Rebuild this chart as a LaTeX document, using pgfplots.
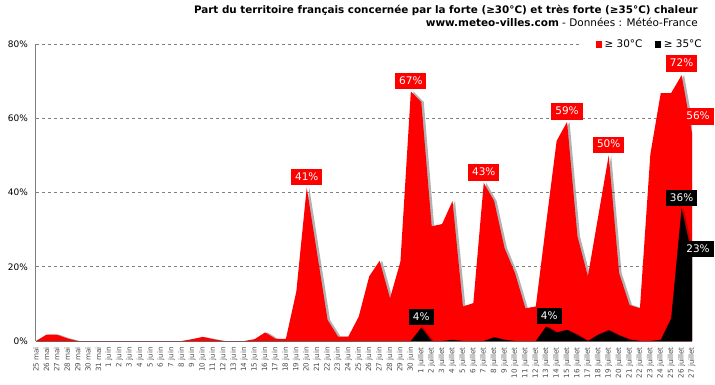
\documentclass[border=0pt]{standalone}
\usepackage{pgfplots}
\pgfplotsset{compat=1.18}
\usepackage{fontspec}
\setmainfont{DejaVu Sans}
\usetikzlibrary{shadows}
\definecolor{vred}{HTML}{FF0000}
\definecolor{gridgray}{HTML}{808080}
\tikzset{
  lblred/.style={fill=vred, text=white, font=\fontsize{10.5}{12}\selectfont, inner xsep=4bp, inner ysep=3.5bp, text height=7.7bp, text depth=1.8bp, anchor=south, yshift=2bp},
  lblblk/.style={lblred, fill=black}
}
\begin{document}
\begin{tikzpicture}
\begin{axis}[
  at={(0,0)}, anchor=south west, scale only axis,
  width=656bp, height=297bp,
  xmin=0, xmax=63, ymin=0, ymax=80,
  axis x line*=bottom, axis y line*=left,
  axis line style={gridgray, line width=1bp},
  xtick={0,...,63},
  xticklabels={25 mai,26 mai,27 mai,28 mai,29 mai,30 mai,31 mai,
    1 juin,2 juin,3 juin,4 juin,5 juin,6 juin,7 juin,8 juin,9 juin,10 juin,
    11 juin,12 juin,13 juin,14 juin,15 juin,16 juin,17 juin,18 juin,19 juin,20 juin,
    21 juin,22 juin,23 juin,24 juin,25 juin,26 juin,27 juin,28 juin,29 juin,30 juin,
    1 juillet,2 juillet,3 juillet,4 juillet,5 juillet,6 juillet,7 juillet,8 juillet,9 juillet,10 juillet,
    11 juillet,12 juillet,13 juillet,14 juillet,15 juillet,16 juillet,17 juillet,18 juillet,19 juillet,20 juillet,
    21 juillet,22 juillet,23 juillet,24 juillet,25 juillet,26 juillet,27 juillet},
  x tick label style={rotate=90, anchor=east, font=\fontsize{7.2}{8}\selectfont, text=black!70, inner sep=0pt},
  xticklabel shift=6bp,
  ytick={0,20,40,60,80},
  yticklabels={0\%,20\%,40\%,60\%,80\%},
  y tick label style={font=\fontsize{9}{10}\selectfont, anchor=east, inner sep=0pt},
  yticklabel shift=8bp,
  major tick length=0pt,
  ymajorgrids,
  grid style={gridgray, dash pattern=on 3bp off 3bp, line width=0.8bp},
  clip mode=individual,
  legend columns=2,
  legend style={at={(1.0381,1.0)}, anchor=east, draw=none, fill=white,
    font=\fontsize{10.5}{12}\selectfont, inner xsep=15bp, inner ysep=2bp,
    nodes={inner sep=0pt},
    /tikz/every odd column/.append style={column sep=3bp},
    /tikz/every even column/.append style={column sep=13bp}},
]
\addplot[fill=vred, draw=none, forget plot,
  drop shadow={shadow xshift=2.5bp, shadow yshift=0bp, opacity=0.3, fill=black}]
coordinates {
(0,0) (1,1.7) (2,1.7) (3,0.7) (4,0) (5,0) (6,0) (7,0) (8,0) (9,0)
(10,0) (11,0) (12,0) (13,0) (14,0) (15,0.5) (16,1.1) (17,0.5) (18,0) (19,0)
(20,0) (21,0.5) (22,2.3) (23,0.6) (24,0.6) (25,13.3) (26,41.3) (27,23.5) (28,5.7) (29,1.2)
(30,1.2) (31,6.6) (32,17.4) (33,21.6) (34,11.5) (35,21.4) (36,67.2) (37,64.4) (38,30.9) (39,31.5)
(40,37.7) (41,9.3) (42,10.2) (43,42.6) (44,37.7) (45,25) (46,18.3) (47,8.8) (48,9.3) (49,31.8)
(50,53.9) (51,59) (52,28.2) (53,17.4) (54,33.7) (55,50) (56,18.3) (57,9.7) (58,8.8) (59,50.3)
(60,66.8) (61,66.8) (62,71.6) (63,56)
} \closedcycle;
\addplot[fill=black, draw=none, forget plot,
  drop shadow={shadow xshift=2bp, shadow yshift=0bp, opacity=0.25, fill=black}]
coordinates {
(0,0) (36,0) (37,3.6) (38,0) (39,0) (40,0.3) (41,0) (42,0) (43,0) (44,1.0)
(45,0.3) (46,0) (47,0) (48,0) (49,3.9) (50,2.3) (51,3.0) (52,1.6) (53,0) (54,1.7)
(55,2.9) (56,1.5) (57,0.4) (58,0) (59,0) (60,0.3) (61,6.1) (62,35.8) (63,23)
} \closedcycle;
\addlegendimage{legend image code/.code={\fill[vred] (0bp,-3bp) rectangle (5bp,3bp);}}
\addlegendentry{≥ 30°C}
\addlegendimage{legend image code/.code={\fill[black] (0bp,-3bp) rectangle (5bp,3bp);}}
\addlegendentry{≥ 35°C}
\node[lblred] at (axis cs:26,41.3) {41\%};
\node[lblred] at (axis cs:36,67.2) {67\%};
\node[lblred] at (axis cs:43,42.6) {43\%};
\node[lblred] at (axis cs:51,59) {59\%};
\node[lblred] at (axis cs:55,50) {50\%};
\node[lblred, yshift=1bp] at (axis cs:62,71.6) {72\%};
\node[lblred, xshift=6bp, yshift=6bp] at (axis cs:63,56) {56\%};
\node[lblblk] at (axis cs:37,3.6) {4\%};
\node[lblblk, xshift=3bp] at (axis cs:49,3.9) {4\%};
\node[lblblk, yshift=-0.5bp] at (axis cs:62,35.8) {36\%};
\node[lblblk, xshift=6bp, yshift=-4bp] at (axis cs:63,23) {23\%};
\end{axis}
\node[anchor=base east, inner sep=0pt, font=\bfseries\fontsize{10.4}{12}\selectfont] at (662bp,327bp)
  {Part du territoire français concernée par la forte (≥30°C) et très forte (≥35°C) chaleur};
\node[anchor=base east, inner sep=0pt, font=\fontsize{10.5}{12}\selectfont] at (662bp,314bp)
  {\textbf{www.meteo-villes.com} - Données : Météo-France};
\pgfresetboundingbox
\useasboundingbox (-36bp,-44bp) rectangle (679bp,341bp);
\end{tikzpicture}
\end{document}
